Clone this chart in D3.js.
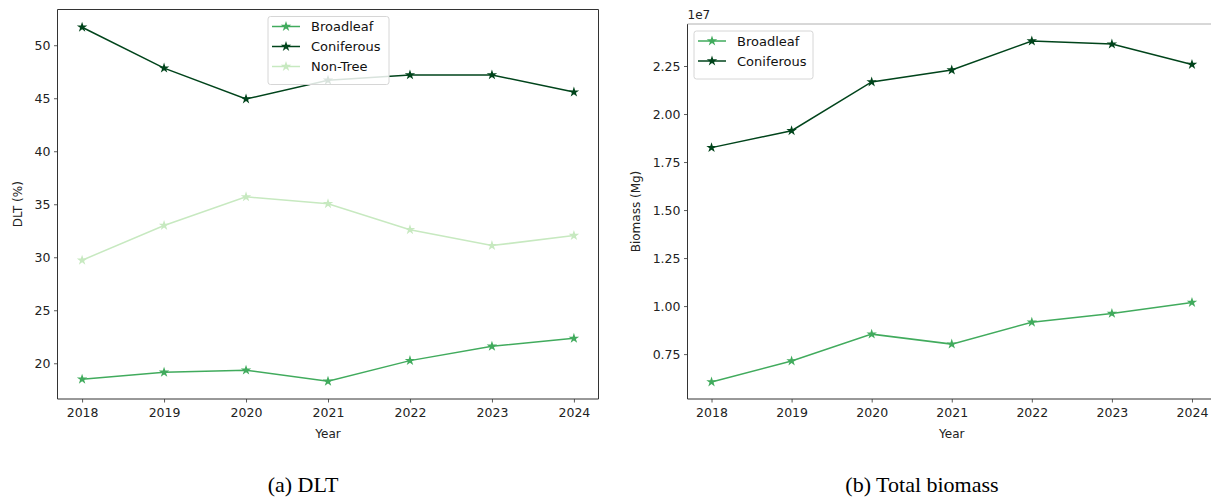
<!DOCTYPE html>
<html>
<head>
<meta charset="utf-8">
<script src="https://cdn.jsdelivr.net/npm/d3@7"></script>
<style>
  html, body { margin: 0; padding: 0; background: #fff; }
  svg { display: block; }
  .tick text { font-family: "DejaVu Sans", sans-serif; font-size: 12.5px; fill: #222; }
  .axis-label { font-family: "DejaVu Sans", sans-serif; font-size: 12px; fill: #222; }
  .legend text { font-family: "DejaVu Sans", sans-serif; font-size: 13px; fill: #111; }
  .caption { font-family: "Liberation Serif", "Times New Roman", serif; font-size: 22px; fill: #000; }
</style>
</head>
<body>
<svg id="chart" width="1211" height="498"></svg>
<script>
// Years on the x axis
const years = [2018, 2019, 2020, 2021, 2022, 2023, 2024];

// (a) DLT share per class, %
const dltBroadleaf  = [18.5, 19.15, 19.35, 18.3, 20.25, 21.6, 22.35];
const dltConiferous = [51.7, 47.84, 44.93, 46.7, 47.2, 47.2, 45.58];
const dltNonTree    = [29.72, 33.0, 35.7, 35.05, 32.6, 31.1, 32.05];

// (b) Total biomass per class, Mg
const bioBroadleaf  = [6.05e6, 7.14e6, 8.54e6, 8.02e6, 9.16e6, 9.62e6, 10.19e6];
const bioConiferous = [18.25e6, 19.13e6, 21.67e6, 22.29e6, 23.80e6, 23.64e6, 22.58e6];

// Tick values
const dltTicks = [20, 25, 30, 35, 40, 45, 50];
const bioTicks = [0.75e7, 1.0e7, 1.25e7, 1.5e7, 1.75e7, 2.0e7, 2.25e7];

const colors = { Broadleaf: "#41ab5d", Coniferous: "#00441b", "Non-Tree": "#c7e9c0" };

const svg = d3.select("#chart");
const star = d3.symbol().type(d3.symbolStar).size(34);

// Axis limits padded by 5% of the data range on each side
function padded(ext) {
  const m = (ext[1] - ext[0]) * 0.05;
  return [ext[0] - m, ext[1] + m];
}

function panel(opts) {
  const { left, right, top, bottom, series, yTicks, yFmt, yLabel, caption, captionX,
          legend, topSpineColor } = opts;
  const g = svg.append("g");
  const x = d3.scaleLinear().domain(padded(d3.extent(years))).range([left, right]);
  const all = series.flatMap(s => s.values);
  const y = d3.scaleLinear().domain(padded(d3.extent(all))).range([bottom, top]);

  // lines and star markers
  const line = d3.line().x((d, i) => x(years[i])).y(d => y(d));
  series.forEach(s => {
    g.append("path").datum(s.values)
      .attr("d", line).attr("fill", "none")
      .attr("stroke", colors[s.name]).attr("stroke-width", 1.5);
    g.selectAll(null).data(s.values).enter().append("path")
      .attr("d", star)
      .attr("transform", (d, i) => `translate(${x(years[i])},${y(d)})`)
      .attr("fill", colors[s.name]);
  });

  // axes
  const xAxis = d3.axisBottom(x).tickValues(years).tickFormat(d3.format("d"))
    .tickSizeOuter(0).tickSize(3.5).tickPadding(3.5);
  const yAxis = d3.axisLeft(y).tickValues(yTicks).tickFormat(yFmt)
    .tickSizeOuter(0).tickSize(3.5).tickPadding(3.5);
  const gx = g.append("g").attr("transform", `translate(0,${bottom})`).call(xAxis);
  const gy = g.append("g").attr("transform", `translate(${left},0)`).call(yAxis);
  [gx, gy].forEach(a => {
    a.select(".domain").remove();
    a.selectAll(".tick line").attr("stroke", "#333").attr("stroke-width", 0.8);
  });
  gx.selectAll(".tick text").attr("dy", "0.85em");

  // frame
  g.append("line").attr("x1", left).attr("x2", right).attr("y1", bottom).attr("y2", bottom)
    .attr("stroke", "#333").attr("stroke-width", 1);
  g.append("line").attr("x1", left).attr("x2", left).attr("y1", top).attr("y2", bottom)
    .attr("stroke", "#333").attr("stroke-width", 1);
  g.append("line").attr("x1", left).attr("x2", right).attr("y1", top).attr("y2", top)
    .attr("stroke", topSpineColor).attr("stroke-width", 1);
  g.append("line").attr("x1", right).attr("x2", right).attr("y1", top).attr("y2", bottom)
    .attr("stroke", "#333").attr("stroke-width", 1);

  // axis titles
  g.append("text").attr("class", "axis-label")
    .attr("x", (left + right) / 2).attr("y", bottom + 39).attr("text-anchor", "middle")
    .text("Year");
  g.append("text").attr("class", "axis-label")
    .attr("transform", `translate(${opts.yLabelX},${(top + bottom) / 2}) rotate(-90)`)
    .attr("text-anchor", "middle").attr("dominant-baseline", "central")
    .text(yLabel);

  // legend
  const lg = g.append("g").attr("class", "legend");
  lg.append("rect").attr("x", legend.x).attr("y", legend.y)
    .attr("width", legend.w).attr("height", 20 * series.length + 8)
    .attr("rx", 2.5).attr("fill", "#fff").attr("fill-opacity", 0.85)
    .attr("stroke", "#d6d6d6").attr("stroke-width", 1);
  series.forEach((s, i) => {
    const cy = legend.y + 10 + i * 20;
    lg.append("line").attr("x1", legend.x + 4).attr("x2", legend.x + 32)
      .attr("y1", cy).attr("y2", cy)
      .attr("stroke", colors[s.name]).attr("stroke-width", 1.5);
    lg.append("path").attr("d", star)
      .attr("transform", `translate(${legend.x + 18},${cy})`)
      .attr("fill", colors[s.name]);
    lg.append("text").attr("x", legend.x + 43).attr("y", cy)
      .attr("dominant-baseline", "central").text(s.name);
  });

  if (opts.offsetText) {
    g.append("text").attr("class", "axis-label")
      .attr("x", left).attr("y", top - 5).text(opts.offsetText);
  }

  svg.append("text").attr("class", "caption")
    .attr("x", captionX).attr("y", 492).attr("text-anchor", "middle")
    .text(caption);
}

panel({
  left: 57.5, right: 598.5, top: 9.5, bottom: 399,
  series: [
    { name: "Broadleaf", values: dltBroadleaf },
    { name: "Coniferous", values: dltConiferous },
    { name: "Non-Tree", values: dltNonTree }
  ],
  yTicks: dltTicks, yFmt: d3.format("d"), yLabel: "DLT (%)", yLabelX: 18,
  caption: "(a) DLT", captionX: 303,
  legend: { x: 268, y: 16.5, w: 121 },
  topSpineColor: "#333"
});

panel({
  left: 687.5, right: 1216, top: 24, bottom: 399,
  series: [
    { name: "Broadleaf", values: bioBroadleaf },
    { name: "Coniferous", values: bioConiferous }
  ],
  yTicks: bioTicks, yFmt: d => (d / 1e7).toFixed(2), yLabel: "Biomass (Mg)", yLabelX: 636,
  caption: "(b) Total biomass", captionX: 922,
  legend: { x: 694, y: 31, w: 119 },
  offsetText: "1e7",
  topSpineColor: "#b0b0b0"
});
</script>
</body>
</html>
